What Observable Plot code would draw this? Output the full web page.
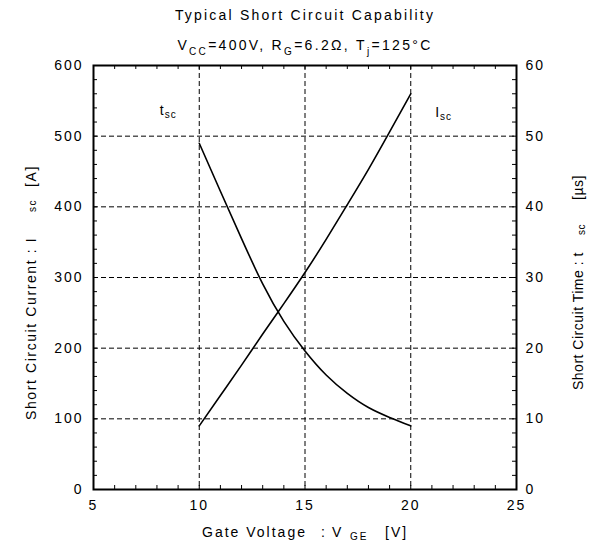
<!DOCTYPE html>
<html><head><meta charset="utf-8">
<script src="https://cdn.jsdelivr.net/npm/d3@7"></script>
<script src="https://cdn.jsdelivr.net/npm/@observablehq/plot@0.6"></script>
<style>
body{margin:0;background:#fff}
</style></head><body><div id="chart"></div>
<script>
// Data
const vge = [10, 11, 12, 13, 14, 15, 16, 17, 18, 19, 20];            // Gate voltage [V]
const isc = [90, 133, 176, 220, 263, 307, 354, 403, 453, 506, 560];    // Short circuit current [A]
const tsc = [49, 42.2, 35.5, 29.1, 23.8, 19.6, 16.2, 13.6, 11.6, 10.2, 9.0]; // Short circuit time [µs]

const xTicks = [5, 10, 15, 20, 25];
const yTicksLeft = [0, 100, 200, 300, 400, 500, 600];
const yTicksRight = [0, 10, 20, 30, 40, 50, 60];
const xGrid = [10, 15, 20];
const yGrid = [100, 200, 300, 400, 500];
const xMinor = d3.range(5, 26, 1);
const yMinor = d3.range(0, 601, 20);

const rows = vge.map((v, i) => ({vge: v, isc: isc[i], tsc: tsc[i]}));
const ratio = 600 / 60; // right axis (µs) -> left axis (A) scale

const W = 597, H = 547, mt = 65, mb = 58, ml = 93, mr = 81;
const pw = W - ml - mr, ph = H - mt - mb;
const FONT = "'Liberation Sans', Arial, sans-serif";

const chart = Plot.plot({
  width: W, height: H,
  marginTop: mt, marginBottom: mb, marginLeft: ml, marginRight: mr,
  style: {fontFamily: FONT, fontSize: "14px", color: "#000", background: "#fff", letterSpacing: "2px"},
  x: {domain: [5, 25]},
  y: {domain: [0, 600]},
  marks: [
    Plot.ruleX(xGrid, {x: d => d, stroke: "#000", strokeWidth: 1, strokeDasharray: "5,3"}),
    Plot.ruleY(yGrid, {y: d => d, stroke: "#000", strokeWidth: 1, strokeDasharray: "5,3"}),
    Plot.tickX(xMinor, {x: d => d, insetTop: ph - 4, stroke: "#000"}),
    Plot.tickX(xMinor, {x: d => d, insetBottom: ph - 4, stroke: "#000"}),
    Plot.tickY(yMinor, {y: d => d, insetRight: pw - 4, stroke: "#000"}),
    Plot.tickY(yMinor, {y: d => d, insetLeft: pw - 4, stroke: "#000"}),
    Plot.line(rows, {x: "vge", y: "isc", curve: "natural", stroke: "#000", strokeWidth: 1.6}),
    Plot.line(rows, {x: "vge", y: d => d.tsc * ratio, curve: "natural", stroke: "#000", strokeWidth: 1.6}),
    Plot.frame({stroke: "#000", strokeWidth: 2}),
    Plot.axisX(xTicks, {anchor: "bottom", tickSize: 0, tickPadding: 11, label: null, fontSize: 14}),
    Plot.axisY(yTicksLeft, {anchor: "left", tickSize: 0, tickPadding: 10, label: null, fontSize: 14}),
    Plot.axisY(yTicksLeft, {anchor: "right", tickSize: 0, tickPadding: 9, label: null, fontSize: 14,
      tickFormat: d => String(yTicksRight[yTicksLeft.indexOf(d)])})
  ]
});
document.getElementById("chart").appendChild(chart);

const svg = d3.select(chart);
const sx = chart.scale("x"), sy = chart.scale("y");

function addText(parent, pieces, attrs, subShift = 3) {
  const t = parent.append("text").attr("font-family", FONT).attr("fill", "#000").attr("text-anchor", "start");
  for (const [k, v] of Object.entries(attrs)) t.attr(k, v);
  for (const p of pieces) {
    const s = t.append("tspan").text(p.text);
    if (p.sub) s.attr("font-size", 10).attr("baseline-shift", -subShift);
    if (p.x !== undefined) s.attr("x", p.x);
  }
  return t;
}

// Title & subtitle
addText(svg, [{text: "Typical Short Circuit Capability"}],
  {x: 305, y: 20, "text-anchor": "middle", "font-size": 14, "letter-spacing": "2.2px"});
addText(svg, [
  {text: "V"}, {text: "CC", sub: true}, {text: "=400V, R"}, {text: "G", sub: true},
  {text: "=6.2Ω, T"}, {text: "j", sub: true}, {text: "=125°C"}
], {x: 305, y: 50, "text-anchor": "middle", "font-size": 14, "letter-spacing": "2.3px"}, 5);

// Curve labels
addText(svg, [{text: "t"}, {text: "sc", sub: true}],
  {x: sx.apply(8.16), y: sy.apply(529), "font-size": 14, "letter-spacing": "1px"}, 3);
addText(svg, [{text: "I"}, {text: "sc", sub: true}],
  {x: sx.apply(21.18), y: sy.apply(526), "font-size": 14, "letter-spacing": "1px"}, 3);

// X axis title
addText(svg, [
  {text: "Gate Voltage", x: 202}, {text: ":", x: 321}, {text: "V", x: 332},
  {text: "GE", sub: true, x: 350}, {text: "[V]", x: 385}
], {y: 537, "font-size": 14, "letter-spacing": "2px"}, 3);

// Left Y axis title (rotated)
const gl = svg.append("g").attr("transform", "translate(36,0) rotate(-90)");
addText(gl, [
  {text: "Short Circuit Current : I", x: -420}, {text: "sc", sub: true, x: -212}, {text: "[A]", x: -187}
], {y: 0, "font-size": 14, "letter-spacing": "1.6px"}, 0);

// Right Y axis title (rotated)
const gr = svg.append("g").attr("transform", "translate(583,0) rotate(-90)");
addText(gr, [
  {text: "Short Circuit Time : t", x: -390}, {text: "sc", sub: true, x: -235}, {text: "[µs]", x: -200}
], {y: 0, "font-size": 14, "letter-spacing": "0.5px"}, 2);
</script>
</body></html>
